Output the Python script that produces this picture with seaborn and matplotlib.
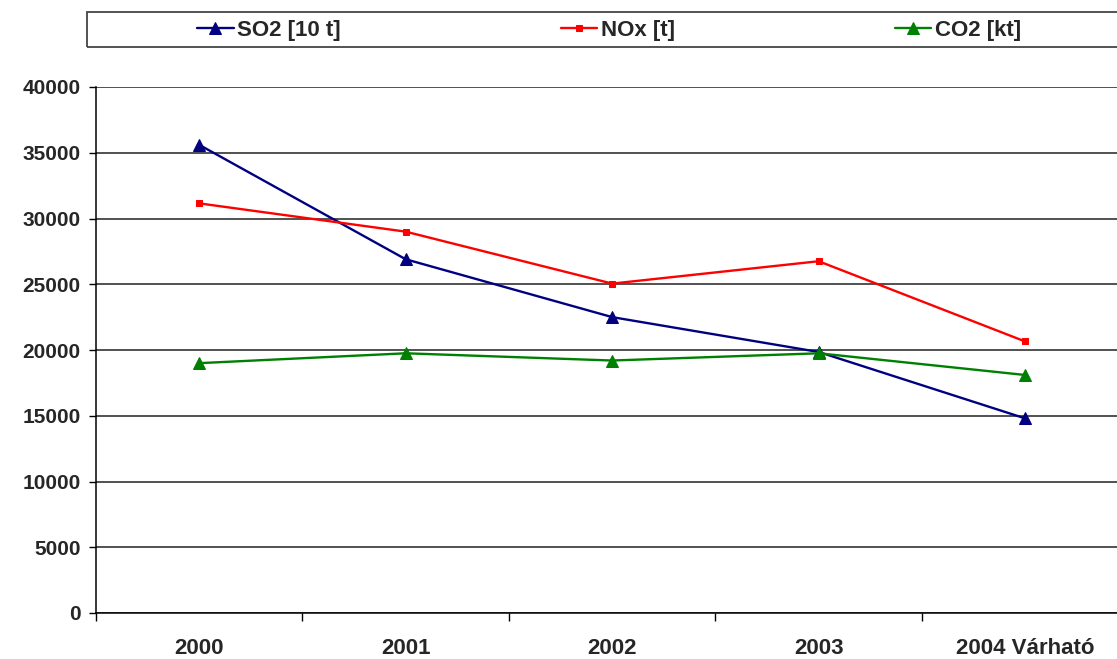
import numpy as np
import pandas as pd
import seaborn as sns
import matplotlib.pyplot as plt
from matplotlib.patches import Rectangle

# data
years = ["2000", "2001", "2002", "2003", "2004 Várható"]
so2 = [35600, 26900, 22500, 19850, 14800]
nox = [31150, 29000, 25050, 26750, 20650]
co2 = [19000, 19750, 19200, 19750, 18100]

series_names = ["SO2 [10 t]", "NOx [t]", "CO2 [kt]"]
series_colors = ["#000080", "#FF0000", "#008000"]
series_markers = ["^", "s", "^"]
series_sizes = [9, 5, 9]

sns.set_style("white")
plt.rcParams["font.family"] = ["Liberation Sans", "DejaVu Sans"]
plt.rcParams["font.weight"] = "bold"

data = pd.DataFrame({"year": years, series_names[0]: so2,
                     series_names[1]: nox, series_names[2]: co2})
data["pos"] = np.arange(len(years))

W, H = 1117, 659
fig = plt.figure(figsize=(W / 100, H / 100), dpi=100)
ax = fig.add_axes([96 / W, 46 / H, 1 - 96 / W, 526 / H])

for name, color, marker, size in zip(series_names, series_colors, series_markers, series_sizes):
    sns.lineplot(data=data, x="pos", y=name, ax=ax, color=color, marker=marker,
                 markersize=size, markeredgecolor=color, linewidth=1.7, label=name)

ax.set_xlim(-0.5, 4.445)
ax.set_ylim(0, 40000)
ax.set_yticks(np.arange(0, 40001, 5000))
ax.set_xticks(data["pos"])
ax.set_xticklabels(years, fontsize=16, fontweight="bold")
# category separators (the last one falls outside the cropped canvas)
ax.set_xticks(np.arange(-0.5, 4.0, 1.0), minor=True)
ax.tick_params(axis="x", which="both", bottom=True)
ax.tick_params(axis="x", which="major", length=0, pad=18)
ax.tick_params(axis="x", which="minor", length=6, width=1.0, color="black", direction="out")
ax.tick_params(axis="y", left=True, length=5, width=1.0, color="black", direction="out", pad=6,
               labelsize=15)
for lab in ax.get_yticklabels():
    lab.set_fontweight("bold")
ax.set_xlabel("")
ax.set_ylabel("")

ax.grid(axis="y", color="#222222", linewidth=1.1)
ax.set_axisbelow(True)
for side in ["top", "right"]:
    ax.spines[side].set_visible(False)
for side in ["left", "bottom"]:
    ax.spines[side].set_color("black")
    ax.spines[side].set_linewidth(1.1)

# legend box at the top, running past the right edge like the reference
fig.patches.append(Rectangle((87 / W, 1 - 47 / H), (1140 - 87) / W, 35 / H,
                             transform=fig.transFigure, fill=False,
                             edgecolor="#444444", linewidth=1.3))
ax.get_legend().remove()
handles, labels = ax.get_legend_handles_labels()
fig.legend(handles, labels, ncol=3, loc="center left",
           bbox_to_anchor=(197 / W, 1 - 30.5 / H), frameon=False,
           borderpad=0, borderaxespad=0, columnspacing=9.9,
           handlelength=1.65, handletextpad=0.15, markerscale=0.9,
           prop={"weight": "bold", "size": 16})

fig.savefig("out.png", dpi=100)
